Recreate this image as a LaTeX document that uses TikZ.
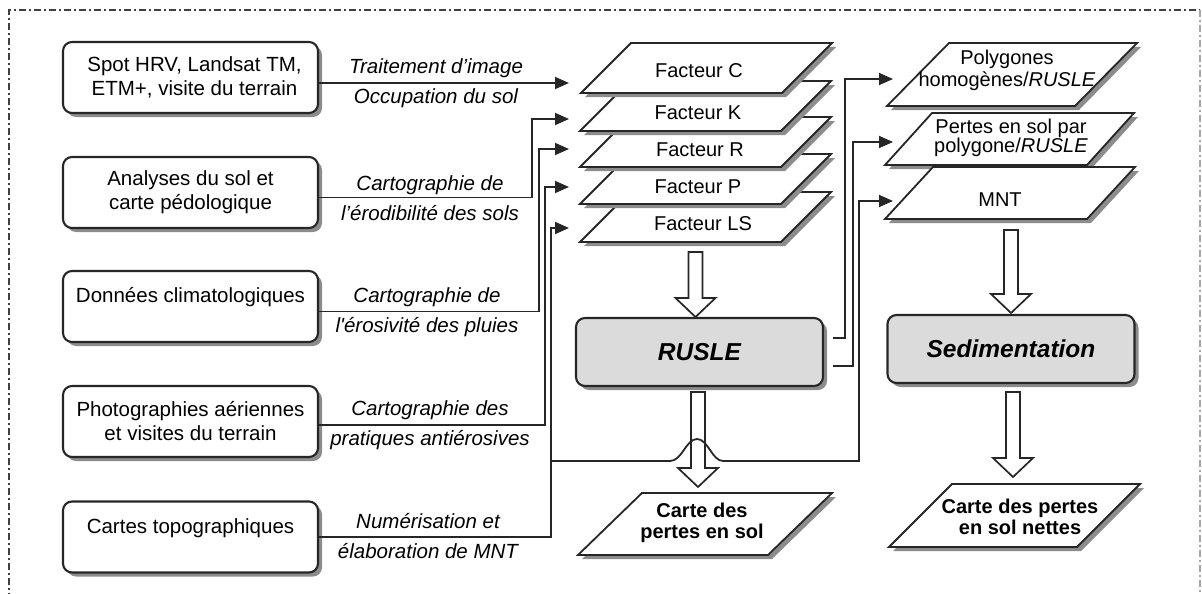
\documentclass[tikz,border=0pt]{standalone}
\usepackage{fontspec}
\setmainfont{Liberation Sans}
\usetikzlibrary{arrows.meta,calc}

\tikzset{
  x=1pt, y=-1pt,
  srcbox/.style={draw=black!85, line width=2.1pt, rounded corners=9pt, fill=white,
    minimum width=255pt, minimum height=71pt, inner sep=0pt, align=center,
    font=\fontsize{20.5}{24}\selectfont,
    preaction={fill=black!45, transform canvas={shift={(4pt,-4pt)}}}},
  oneline/.style={text height=15pt, text depth=23pt},
  procbox/.style={srcbox, fill=black!14, minimum width=247pt, minimum height=68pt,
    font=\fontsize{24.5}{28}\selectfont\bfseries\itshape},
  conn/.style={draw=black!85, line width=1.8pt},
  arr/.style={conn, -{Triangle[length=14pt,width=12pt]}},
  lbl/.style={align=center, font=\fontsize{20.5}{30}\selectfont\itshape, inner sep=0pt},
  layer/.style={draw=black!85, line width=1.8pt, fill=white, line join=miter},
  layershadow/.style={fill=black!45},
  layertext/.style={font=\fontsize{20}{22}\selectfont, align=center, inner sep=0pt},
  outtext/.style={font=\fontsize{20}{21}\selectfont\bfseries, align=center, inner sep=0pt},
  fat/.style={draw=black!85, line width=1.7pt, fill=white, line join=miter},
  border/.style={line width=1.3pt, dash pattern=on 7pt off 3pt on 2pt off 3pt},
}

% parallelogram: #1 bottom-left x, #2 bottom-left y, #3 width, #4 height, #5 slant offset
\newcommand\layerpath[5]{%
  \fill[layershadow] (#1+4,#2+4) -- ++(#3,0) -- ++(#5,-#4) -- ++(-#3,0) -- cycle;
  \filldraw[layer] (#1,#2) -- ++(#3,0) -- ++(#5,-#4) -- ++(-#3,0) -- cycle;
}
% fat arrow from coordinate #1 (shaft top centre) to coordinate #2 (tip)
\newcommand\fatarr[2]{%
  \draw[fat] let \p1=(#1), \p2=(#2) in
    (\x1-7pt,\y1) -- (\x1+7pt,\y1) -- (\x1+7pt,\y2+19pt) -- (\x1+20pt,\y2+19pt)
    -- (\x1,\y2) -- (\x1-20pt,\y2+19pt) -- (\x1-7pt,\y2+19pt) -- cycle;
}

\begin{document}
\begin{tikzpicture}
\useasboundingbox (0,0) rectangle (1202,594);

% frame
\draw[border, black!75] (9,600) -- (9,10) -- (1200,10);
\draw[border, black!35] (1200,10) -- (1200,600);

% source boxes
\node[srcbox] (box1) at (190.5,77.5) {\hspace*{8pt}Spot HRV, Landsat TM,\\\hspace*{8pt}ETM+, visite du terrain};
\node[srcbox] (box2) at (190.5,192.5) {Analyses du sol et\\carte pédologique};
\node[srcbox, oneline] (box3) at (190.5,306.5) {Données climatologiques};
\node[srcbox] (box4) at (190.5,421.5) {Photographies aériennes\\et visites du terrain};
\node[srcbox, oneline] (box5) at (190.5,537) {Cartes topographiques};

% connector labels
\node[lbl] (l1) at (436,83) {Traitement d’image\\Occupation du sol};
\node[lbl] (l2) at (430,198) {Cartographie de\\l’érodibilité des sols};
\node[lbl] (l3) at (427,312) {Cartographie de\\l\textquotesingle érosivité des pluies};
\node[lbl] (l4) at (430,425) {Cartographie des\\pratiques antiérosives};
\node[lbl] (l5) at (428,536) {Numérisation et\\élaboration de MNT};

% factor layers (bottom first)
\layerpath{580}{242}{201}{50}{50}
\layerpath{580}{204}{201}{50}{50}
\layerpath{580}{167}{201}{50}{50}
\layerpath{580}{131}{201}{50}{50}
\layerpath{581}{93}{201}{50}{50}
\node[layertext] (fc)  at (699,71)  {Facteur C};
\node[layertext] (fk)  at (698,113) {Facteur K};
\node[layertext] (fr)  at (700,150) {Facteur R};
\node[layertext] (fp)  at (698,187) {Facteur P};
\node[layertext] (fls) at (703,224) {Facteur LS};

% right layers
\layerpath{887}{106}{188}{63}{62}
\layerpath{885}{165}{202}{52}{47}
\layerpath{885}{219}{202}{52}{48}
\node[layertext] (poly)   at (1007,70)  {Polygones\\homogènes/\textit{RUSLE}};
\node[layertext, font=\fontsize{20}{19}\selectfont] (pertes) at (1011,138) {Pertes en sol par\\polygone/\textit{RUSLE}};
\node[layertext] (mnt)    at (1000,200) {MNT};

% process boxes
\node[procbox] (rusle) at (699.5,352) {RUSLE};
\node[procbox] (sed)   at (1011,349)  {Sedimentation};

% output layers
\layerpath{578}{555}{190}{62}{64}
\layerpath{889}{547}{188}{63}{63}
\node[outtext] (out1) at (702,523) {Carte des\\pertes en sol};
\node[outtext] (out2) at (1020,517) {Carte des pertes\\en sol nettes};

% arrow tip coordinates
\coordinate (tC) at (569,83);
\coordinate (tK) at (569,119);
\coordinate (tR) at (569,149);
\coordinate (tP) at (569,187);
\coordinate (tLS) at (569,228);
\coordinate (tPoly) at (893,79);
\coordinate (tPer) at (893,142);
\coordinate (tMNT) at (893,201);
\coordinate (j) at (551,461);

% fat arrows
\coordinate (a1s) at (695.5,252);  \coordinate (a1e) at (695.5,317);
\coordinate (a2s) at (698,392);    \coordinate (a2e) at (698,487);
\coordinate (a3s) at (1011,230);   \coordinate (a3e) at (1011,313);
\coordinate (a4s) at (1013,392);   \coordinate (a4e) at (1013,477);
\fatarr{a1s}{a1e}
\fatarr{a2s}{a2e}
\fatarr{a3s}{a3e}
\fatarr{a4s}{a4e}

% connectors from sources to factors
\draw[arr] (box1.east |- tC) -- (tC);
\draw[arr] ([yshift=-5pt]box2.east) -| ([xshift=-37pt]tK) -- (tK);
\draw[arr] ([yshift=-5pt]box3.east) -| ([xshift=-30pt]tR) -- (tR);
\draw[arr] ([yshift=-3.5pt]box4.east) -| ([xshift=-24pt]tP) -- (tP);
\draw[arr] (box5.east) -| ([xshift=-18pt]tLS) -- (tLS);

% branch to MNT with hop over the fat arrow
\draw[arr] (j) -- (670,461) .. controls (682,461) and (686,439) .. (697,439)
  .. controls (708,439) and (712,461) .. (723,461) -| ([xshift=-34pt]tMNT) -- (tMNT);

% RUSLE outputs
\draw[arr] ([xshift=9pt,yshift=14pt]rusle.east) -| ([xshift=-48pt]tPoly) -- (tPoly);
\draw[arr] ([xshift=9pt,yshift=-14pt]rusle.east) -| ([xshift=-40pt]tPer) -- (tPer);
\end{tikzpicture}
\end{document}
